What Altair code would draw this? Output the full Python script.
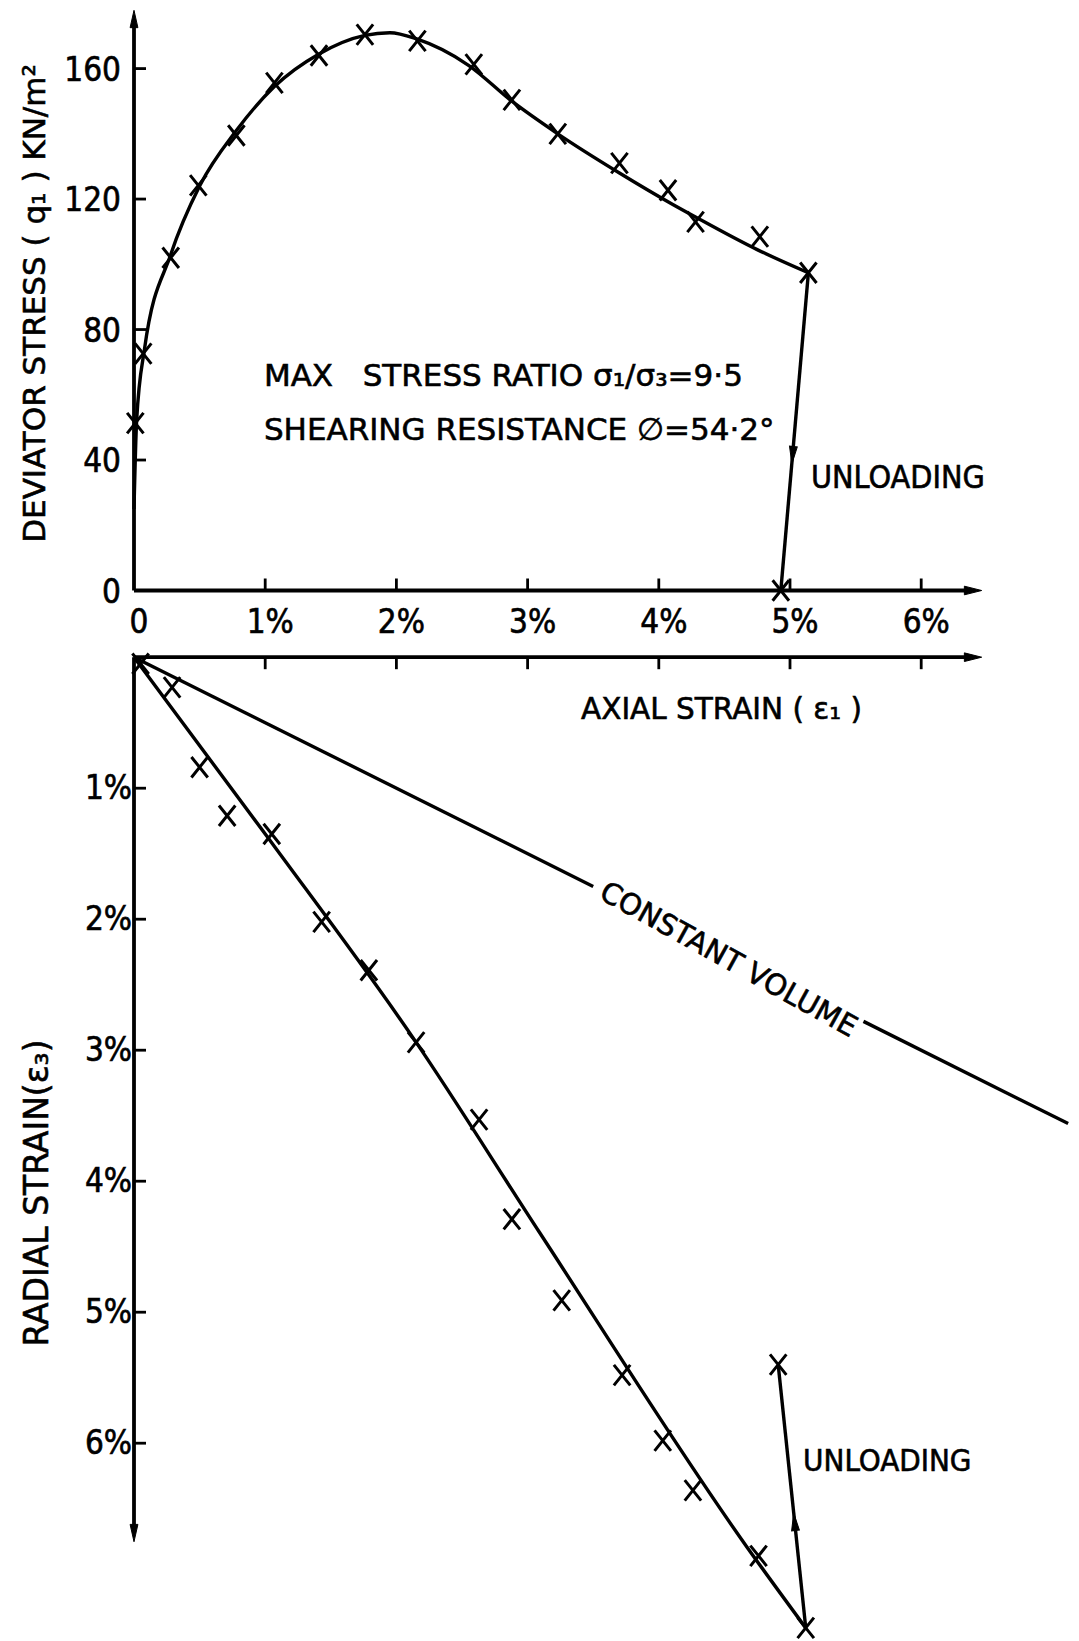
import altair as alt
import pandas as pd

# ---------------------------------------------------------------------------
# Page / axis geometry: both panels share one strain scale along x
# ---------------------------------------------------------------------------
W, H = 1079, 1641
X0_PX, PX_PER_PCT = 134.0, 131.2            # axial strain: origin and pixels per 1 %
TOP_ZERO_PX, TOP_PX_PER_UNIT = 590.5, 3.262  # deviator stress: q = 0 line, pixels per kN/m2
BOT_ZERO_PX, BOT_PX_PER_PCT = 657.2, 131.0   # radial strain (plotted downwards)

FONT_NARROW = "DejaVu Sans Condensed, DejaVu Sans"
FONT_WIDE = "DejaVu Sans"
INK = "#000000"
NBSP = "\u00a0"

# ---------------------------------------------------------------------------
# Deviator stress q (kN/m2) against axial strain (%)
# ---------------------------------------------------------------------------
q_strain = [0.01, 0.07, 0.28, 0.49, 0.78, 1.07, 1.41, 1.76, 2.16, 2.59, 2.88,
            3.23, 3.70, 4.07, 4.28, 4.77, 5.14]
q_value = [51.3, 72.6, 102.0, 124.2, 139.5, 155.6, 164.0, 170.4, 168.5, 161.3, 150.4,
           140.0, 131.0, 122.7, 113.0, 108.5, 97.4]

# smooth curve drawn through the test points
q_curve_strain = [0.0, 0.02, 0.08, 0.28, 0.50, 0.78, 1.07, 1.41, 1.76, 1.95, 2.16,
                  2.55, 2.88, 3.23, 3.70, 4.10, 4.28, 4.75, 5.14]
q_curve_value = [25.0, 52.0, 74.0, 103.0, 124.0, 141.0, 154.5, 164.5, 170.2, 171.0, 169.0,
                 161.0, 150.0, 140.0, 128.0, 118.5, 114.5, 104.5, 97.4]

# unloading branch
q_unload_strain = [5.14, 4.93]
q_unload_value = [97.4, 0.0]
q_unload_arrow = (5.02, 41.5)

# ---------------------------------------------------------------------------
# Radial strain (%) against axial strain (%)
# ---------------------------------------------------------------------------
r_axial = [0.05, 0.29, 0.50, 0.71, 1.05, 1.43, 1.79, 2.15, 2.63, 2.88, 3.26,
           3.72, 4.03, 4.26, 4.76, 5.12]
r_radial = [0.05, 0.23, 0.84, 1.21, 1.35, 2.02, 2.39, 2.94, 3.53, 4.29, 4.91,
            5.48, 5.98, 6.36, 6.86, 7.41]

r_fit_axial = [0.0, 1.03, 2.13, 3.09, 4.67, 5.12]
r_fit_radial = [0.0, 1.39, 2.91, 4.39, 6.79, 7.41]

r_unload_axial = [5.12, 4.91]
r_unload_radial = [7.41, 5.40]
r_unload_arrow = (5.035, 6.60)

# constant-volume line (radial = axial / 2), broken where it is labelled
cv_axial = [0.0, 3.50, 5.56, 7.12]
cv_radial = [0.0, 1.75, 2.78, 3.56]
cv_segment = [0, 0, 1, 1]

# ---------------------------------------------------------------------------
# Axis ticks and labels
# ---------------------------------------------------------------------------
strain_ticks = [1, 2, 3, 4, 5, 6]
strain_labels = ["0", "1%", "2%", "3%", "4%", "5%", "6%"]
strain_label_pos = [0, 1, 2, 3, 4, 5, 6]
q_ticks = [40, 80, 120, 160]
q_labels = ["0", "40", "80", "120", "160"]
q_label_pos = [0, 40, 80, 120, 160]
radial_ticks = [1, 2, 3, 4, 5, 6]
radial_labels = ["1%", "2%", "3%", "4%", "5%", "6%"]

# ---------------------------------------------------------------------------
# Scales
# ---------------------------------------------------------------------------
x_lo = -X0_PX / PX_PER_PCT
x_scale = alt.Scale(domain=[x_lo, x_lo + W / PX_PER_PCT], nice=False, zero=False)
top_scale = alt.Scale(domain=[(TOP_ZERO_PX - H) / TOP_PX_PER_UNIT, TOP_ZERO_PX / TOP_PX_PER_UNIT],
                      nice=False, zero=False)
bot_scale = alt.Scale(domain=[-BOT_ZERO_PX / BOT_PX_PER_PCT, (H - BOT_ZERO_PX) / BOT_PX_PER_PCT],
                      nice=False, zero=False, reverse=True)


def X(f="x"):
    return alt.X(f"{f}:Q", scale=x_scale, axis=None)


def YT(f="y"):
    return alt.Y(f"{f}:Q", scale=top_scale, axis=None)


def YB(f="y"):
    return alt.Y(f"{f}:Q", scale=bot_scale, axis=None)


# symbol paths (unit square, scaled by mark size)
CROSS = "M-0.8,-1L0.8,1M0.8,-1L-0.8,1"
ARROW_UP = "M0,-1L0.45,1L-0.45,1Z"
ARROW_DOWN = "M0,1L-0.45,-1L0.45,-1Z"
ARROW_RIGHT = "M1,0L-1,-0.5L-1,0.5Z"
TICK_UP = "M0,0L0,-1"
TICK_DOWN = "M0,0L0,1"
TICK_RIGHT = "M0,0L1,0"

LINE_W = 3.4
AXIS_W = 3.8


def df(**cols):
    return pd.DataFrame(cols)


def markers(data, ych):
    return alt.Chart(data).mark_point(shape=CROSS, size=420, filled=False, stroke=INK,
                                      strokeWidth=3, opacity=1).encode(x=X(), y=ych)


def arrow(data, ych, shape, angle=0):
    return alt.Chart(data).mark_point(shape=shape, size=300, filled=True, fill=INK,
                                      stroke=INK, strokeWidth=1, opacity=1,
                                      angle=angle).encode(x=X(), y=ych)


def ticks(data, ych, shape):
    return alt.Chart(data).mark_point(shape=shape, size=576, filled=False, stroke=INK,
                                      strokeWidth=2.8, opacity=1).encode(x=X(), y=ych)


def text(data, ych, size, align="left", angle=0, dx=0, dy=0, font=FONT_NARROW):
    return alt.Chart(data).mark_text(font=font, fontSize=size, align=align, baseline="middle",
                                     angle=angle, dx=dx, dy=dy, color=INK, stroke=INK,
                                     strokeWidth=0.6).encode(x=X(), y=ych, text="t:N")


# ---------------------------------------------------------------------------
# Upper panel: deviator stress
# ---------------------------------------------------------------------------
top_axes = [
    alt.Chart(df(x=[0.0], x2=[6.39], y=[0.0])).mark_rule(color=INK, strokeWidth=AXIS_W).encode(
        x=X(), x2=alt.X2("x2:Q"), y=YT()),
    alt.Chart(df(x=[0.0], y=[0.0], y2=[175.0])).mark_rule(color=INK, strokeWidth=AXIS_W).encode(
        x=X(), y=YT(), y2=alt.Y2("y2:Q")),
    arrow(df(x=[6.395], y=[0.0]), YT(), ARROW_RIGHT),
    arrow(df(x=[0.0], y=[175.2]), YT(), ARROW_UP),
    ticks(df(x=strain_ticks, y=[0.0] * len(strain_ticks)), YT(), TICK_UP),
    ticks(df(x=[0.0] * len(q_ticks), y=q_ticks), YT(), TICK_RIGHT),
    text(df(x=strain_label_pos, y=[0.0] * len(strain_label_pos), t=strain_labels), YT(), 33,
         align="center", dx=5, dy=32),
    text(df(x=[0.0] * len(q_label_pos), y=q_label_pos, t=q_labels), YT(), 33,
         align="right", dx=-13, dy=2),
]

top_data = [
    alt.Chart(df(x=q_curve_strain, y=q_curve_value)).mark_line(
        interpolate="monotone", color=INK, strokeWidth=LINE_W).encode(x=X(), y=YT()),
    alt.Chart(df(x=q_unload_strain, y=q_unload_value)).mark_line(
        color=INK, strokeWidth=LINE_W).encode(x=X(), y=YT()),
    markers(df(x=q_strain + [q_unload_strain[-1]], y=q_value + [q_unload_value[-1]]), YT()),
    arrow(df(x=[q_unload_arrow[0]], y=[q_unload_arrow[1]]), YT(), ARROW_DOWN, angle=5),
]

top_text = [
    text(df(x=[-0.745], y=[88.0], t=["DEVIATOR  STRESS ( q\u2081 ) KN/m\u00b2"]), YT(), 31,
         align="center", angle=270, font=FONT_WIDE),
    text(df(x=[0.99, 0.99], y=[65.6, 48.8],
            t=[f"MAX{NBSP}{NBSP} STRESS RATIO \u03c3\u2081/\u03c3\u2083=9\u00b75",
               "SHEARING  RESISTANCE \u2205=54\u00b72\u00b0"]), YT(), 31, font=FONT_WIDE),
    text(df(x=[5.16], y=[34.6], t=["UNLOADING"]), YT(), 32),
]

top = alt.layer(*top_axes, *top_data, *top_text)

# ---------------------------------------------------------------------------
# Lower panel: radial strain
# ---------------------------------------------------------------------------
bot_axes = [
    alt.Chart(df(x=[0.0], x2=[6.39], y=[0.0])).mark_rule(color=INK, strokeWidth=AXIS_W).encode(
        x=X(), x2=alt.X2("x2:Q"), y=YB()),
    alt.Chart(df(x=[0.0], y=[0.0], y2=[6.69])).mark_rule(color=INK, strokeWidth=AXIS_W).encode(
        x=X(), y=YB(), y2=alt.Y2("y2:Q")),
    arrow(df(x=[6.395], y=[0.0]), YB(), ARROW_RIGHT),
    arrow(df(x=[0.0], y=[6.686]), YB(), ARROW_DOWN),
    ticks(df(x=strain_ticks, y=[0.0] * len(strain_ticks)), YB(), TICK_DOWN),
    ticks(df(x=[0.0] * len(radial_ticks), y=radial_ticks), YB(), TICK_RIGHT),
    text(df(x=[0.0] * len(radial_ticks), y=radial_ticks, t=radial_labels), YB(), 33,
         align="right", dx=-2, dy=1),
]

bot_data = [
    alt.Chart(df(x=cv_axial, y=cv_radial, s=cv_segment)).mark_line(
        color=INK, strokeWidth=LINE_W).encode(x=X(), y=YB(), detail="s:N"),
    alt.Chart(df(x=r_fit_axial, y=r_fit_radial)).mark_line(
        interpolate="monotone", color=INK, strokeWidth=LINE_W).encode(x=X(), y=YB()),
    alt.Chart(df(x=r_unload_axial, y=r_unload_radial)).mark_line(
        color=INK, strokeWidth=LINE_W).encode(x=X(), y=YB()),
    markers(df(x=r_axial + [r_unload_axial[-1]], y=r_radial + [r_unload_radial[-1]]), YB()),
    arrow(df(x=[r_unload_arrow[0]], y=[r_unload_arrow[1]]), YB(), ARROW_UP, angle=354),
]

bot_text = [
    text(df(x=[4.478], y=[0.405], t=["AXIAL  STRAIN ( \u03b5\u2081 )"]), YB(), 29.5,
         align="center", font=FONT_WIDE),
    text(df(x=[-0.735], y=[4.09], t=["RADIAL   STRAIN(\u03b5\u2083)"]), YB(), 33,
         align="center", angle=270, font=FONT_WIDE),
    text(df(x=[4.53], y=[2.31], t=["CONSTANT VOLUME"]), YB(), 29, align="center", angle=29,
         font=FONT_WIDE),
    text(df(x=[5.10], y=[6.14], t=["UNLOADING"]), YB(), 31),
]

bottom = alt.layer(*bot_axes, *bot_data, *bot_text)

chart = (
    alt.layer(top, bottom)
    .resolve_scale(y="independent")
    .properties(width=W, height=H, padding=0, background="white",
                autosize=alt.AutoSizeParams(type="none"))
    .configure_view(stroke=None)
)

chart.save("out.html", embed_options={"renderer": "svg", "actions": False})
